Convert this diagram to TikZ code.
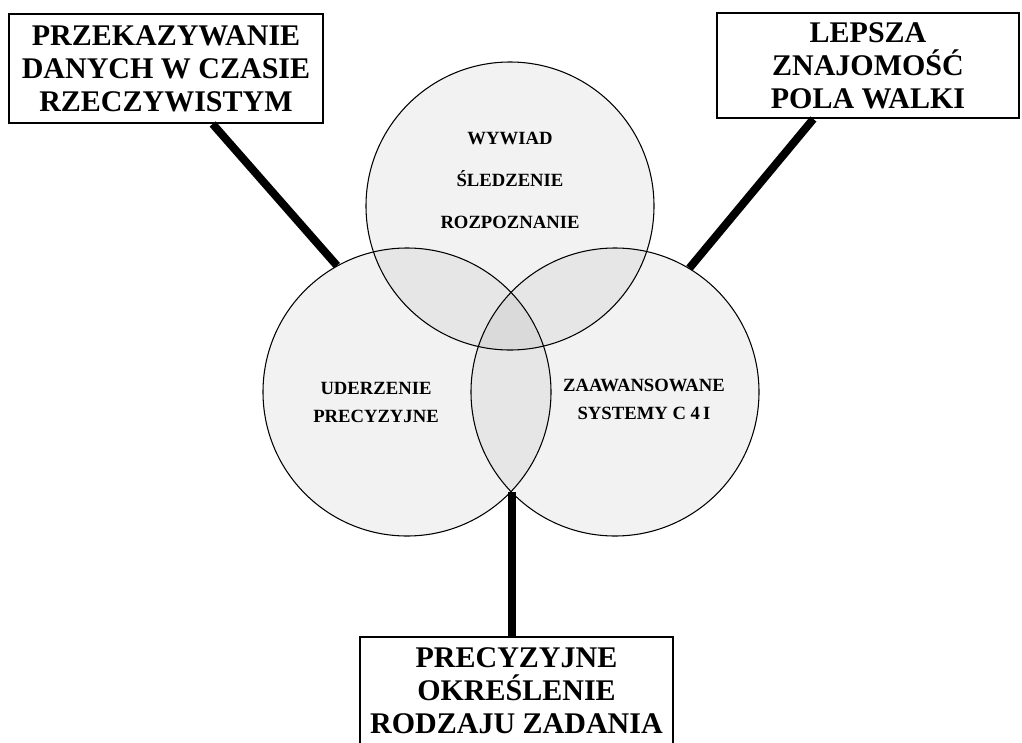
\documentclass[tikz,border=0pt]{standalone}
\usepackage{fontspec}
\setmainfont{Liberation Serif}

\begin{document}
\begin{tikzpicture}[x=0.75pt, y=-0.75pt,
        kolo/.style={circle, draw, line width=0.8pt, fill=black, fill opacity=0.05, minimum size=216pt, inner sep=0pt},
        opis/.style={align=center, font=\fontsize{14}{21}\selectfont\bfseries},
        ramka/.style={draw, line width=1.5pt, fill=white, align=center, inner sep=0pt, font=\fontsize{22.5}{24.75}\selectfont\bfseries},
        szprycha/.style={line width=6pt}]
        \useasboundingbox (0,0) rectangle (1022,743);

        \node [kolo] (rozp) at (510,206) {};
        \node [kolo] (uderz) at (407,392) {};
        \node [kolo] (c4i) at (615,392) {};

        \node [opis, font=\fontsize{14}{31.5}\selectfont\bfseries] (wywiad) at (510,180) {WYWIAD\\ŚLEDZENIE\\ROZPOZNANIE};
        \node [opis] (precyz) at (376,402) {UDERZENIE\\PRECYZYJNE};
        \node [opis] (systemy) at (644,399) {ZAAWANSOWANE\\SYSTEMY C 4\,I};

        \node [ramka, minimum width=235.5pt, minimum height=81.75pt] (dane) at (166,68.5) {PRZEKAZYWANIE\\DANYCH W CZASIE\\RZECZYWISTYM};
        \node [ramka, minimum width=226.5pt, minimum height=78.75pt] (pole) at (868,65.5) {LEPSZA\\ZNAJOMOŚĆ\\POLA WALKI};
        \node [ramka, minimum width=234.75pt, minimum height=81pt] (zadanie) at (516.5,691) {PRECYZYJNE\\OKREŚLENIE\\RODZAJU ZADANIA};

        \coordinate (styk) at (512,492);
        \draw [szprycha] ([xshift=35pt]dane.south) -- (uderz.119);
        \draw [szprycha] ([xshift=-41pt]pole.south) -- (c4i.59);
        \draw [szprycha] (styk) -- (styk |- zadanie.north);
    \end{tikzpicture}
\end{document}
